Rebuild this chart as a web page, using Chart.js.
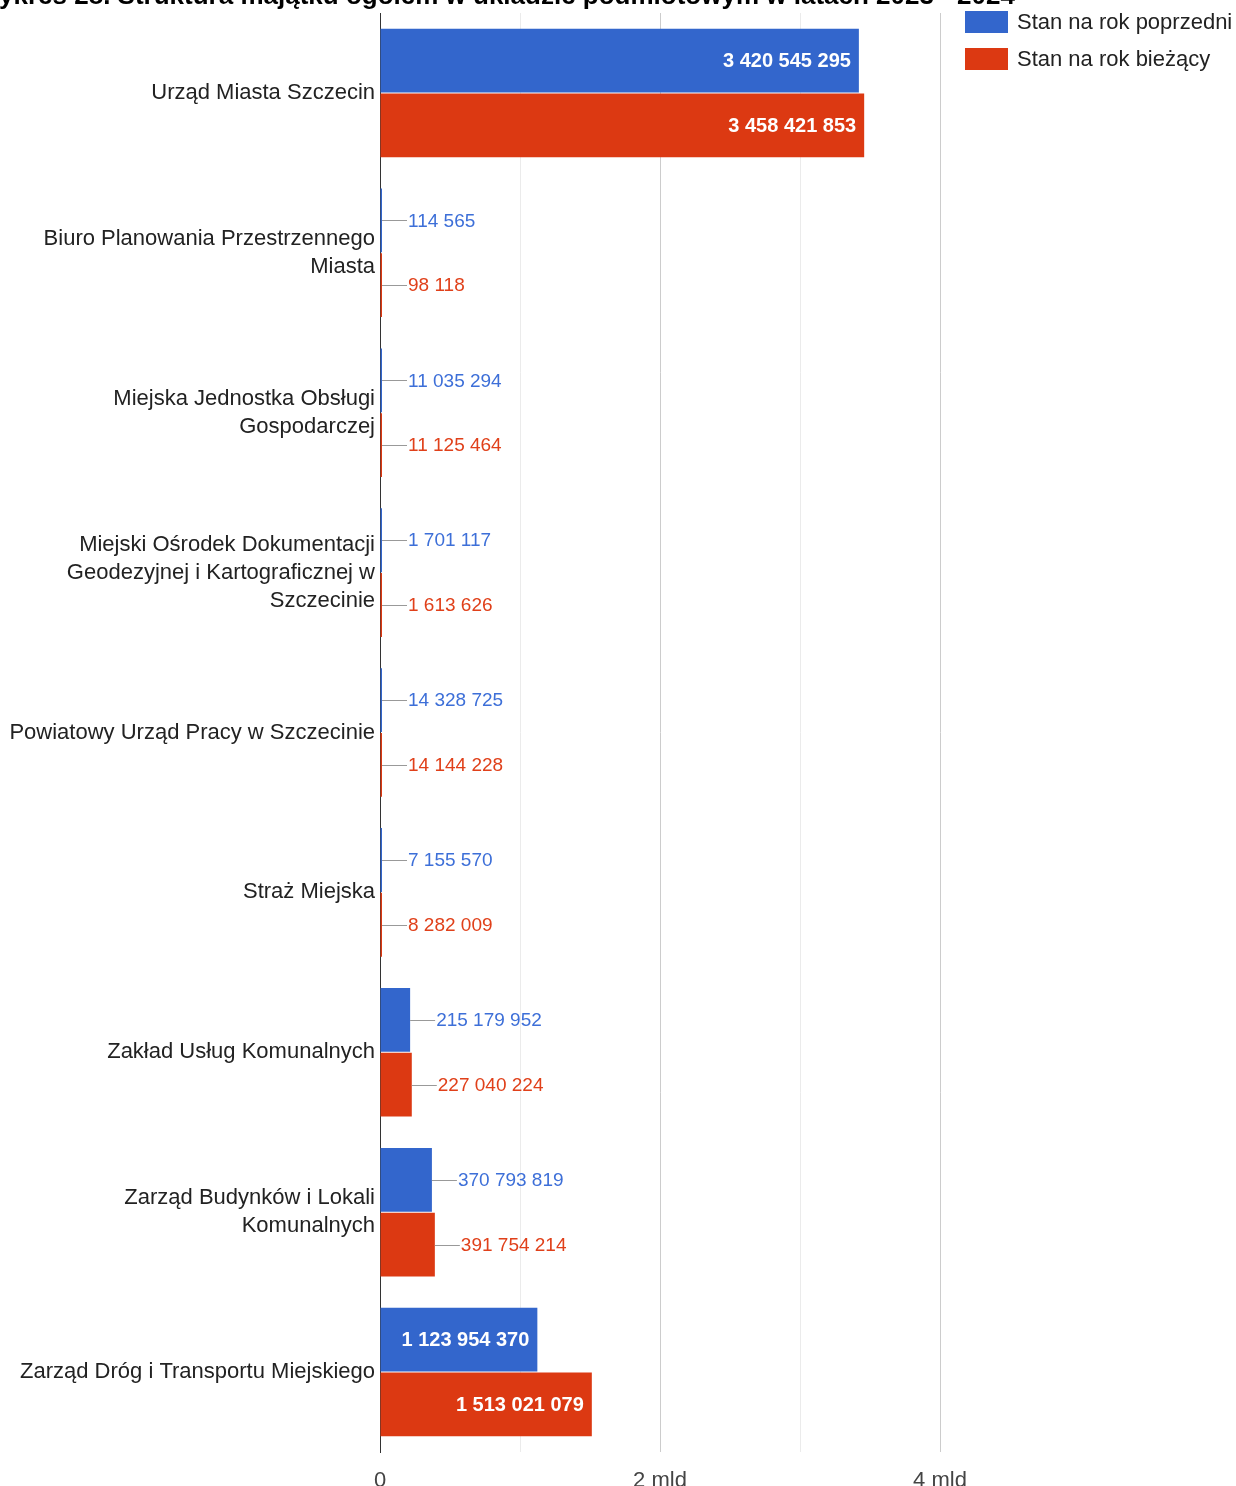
<!DOCTYPE html>
<html lang="pl">
<head>
<meta charset="utf-8">
<script src="https://cdn.jsdelivr.net/npm/chart.js@4"></script>
<style>
  html, body { margin: 0; padding: 0; background: #fff; overflow: hidden; }
  #wrap { position: relative; width: 1236px; height: 1486px; }
  #title {
    position: absolute; left: -25px; top: -18px; white-space: nowrap;
    font: bold 26px/26px "Liberation Sans", Arial, sans-serif; color: #000;
  }
  .leg { position: absolute; left: 965px; font: 22px "Liberation Sans", Arial, sans-serif; color: #222; }
  .leg i { position: absolute; left: 0; width: 43px; height: 22px; }
  .leg span { position: absolute; left: 52px; top: 0; line-height: 22px; white-space: nowrap; }
  canvas { position: absolute; left: 0; top: 0; }
</style>
</head>
<body>
<div id="wrap">
  <canvas id="chart" width="1236" height="1486"></canvas>
  <div id="title">Wykres 28. Struktura majątku ogółem w układzie podmiotowym w latach 2023 - 2024</div>
  <div class="leg" style="top:11px"><i style="background:#3366cc"></i><span>Stan na rok poprzedni</span></div>
  <div class="leg" style="top:48px"><i style="background:#dc3912"></i><span>Stan na rok bieżący</span></div>
</div>
<script>
'use strict';

// ── Data ─────────────────────────────────────────────────────────────────────
const categories = [
  'Urząd Miasta Szczecin',
  ['Biuro Planowania Przestrzennego', 'Miasta'],
  ['Miejska Jednostka Obsługi', 'Gospodarczej'],
  ['Miejski Ośrodek Dokumentacji', 'Geodezyjnej i Kartograficznej w', 'Szczecinie'],
  'Powiatowy Urząd Pracy w Szczecinie',
  'Straż Miejska',
  'Zakład Usług Komunalnych',
  ['Zarząd Budynków i Lokali', 'Komunalnych'],
  'Zarząd Dróg i Transportu Miejskiego',
];
const previousYear = [3420545295, 114565, 11035294, 1701117, 14328725, 7155570, 215179952, 370793819, 1123954370];
const currentYear  = [3458421853, 98118, 11125464, 1613626, 14144228, 8282009, 227040224, 391754214, 1513021079];
const xTickLabels = { 0: '0', 2: '2 mld', 4: '4 mld' };

const FONT = '"Liberation Sans", Arial, sans-serif';
const BLUE = '#3366cc';
const RED = '#dc3912';

// ── Helpers ──────────────────────────────────────────────────────────────────
function fmt(v) {
  return String(v).replace(/\B(?=(\d{3})+(?!\d))/g, ' ');
}

// draws the value next to / inside each bar, Google Charts style
const valueLabels = {
  id: 'valueLabels',
  afterDatasetsDraw(chart) {
    const c = chart.ctx;
    c.save();
    c.textBaseline = 'middle';
    chart.data.datasets.forEach((ds, di) => {
      const meta = chart.getDatasetMeta(di);
      meta.data.forEach((bar, i) => {
        const text = fmt(ds.data[i]);
        const width = bar.x - bar.base;
        c.font = 'bold 20px ' + FONT;
        const tw = c.measureText(text).width;
        if (tw + 16 < width) {
          c.fillStyle = '#fff';
          c.textAlign = 'right';
          c.fillText(text, bar.x - 8, bar.y + 1);
        } else {
          c.strokeStyle = '#999';
          c.lineWidth = 1;
          c.beginPath();
          c.moveTo(bar.x, Math.round(bar.y) + 0.5);
          c.lineTo(bar.x + 25, Math.round(bar.y) + 0.5);
          c.stroke();
          c.font = '19px ' + FONT;
          c.fillStyle = ds.labelColor;
          c.textAlign = 'left';
          c.fillText(text, bar.x + 26, bar.y + 1);
        }
      });
    });
    c.restore();
  },
};

// ── Chart ────────────────────────────────────────────────────────────────────
new Chart(document.getElementById('chart'), {
  type: 'bar',
  data: {
    labels: categories,
    datasets: [
      { label: 'Stan na rok poprzedni', data: previousYear, backgroundColor: BLUE, labelColor: '#3d6fd8' },
      { label: 'Stan na rok bieżący', data: currentYear, backgroundColor: RED, labelColor: '#e0401a' },
    ],
  },
  options: {
    indexAxis: 'y',
    responsive: false,
    animation: false,
    categoryPercentage: 0.81,
    barPercentage: 0.985,
    minBarLength: 2,
    layout: { padding: { top: 13, right: 296, left: 0, bottom: 0 } },
    scales: {
      x: {
        min: 0,
        max: 4e9,
        afterFit(s) { s.height = 34; s.paddingLeft = 0; s.paddingRight = 0; },
        border: { display: false },
        grid: {
          drawTicks: false,
          color: ctx => {
            const v = ctx.tick ? ctx.tick.value : 0;
            if (v === 0) return '#333';
            return (v / 1e9) % 2 === 0 ? '#cccccc' : '#ebebeb';
          },
        },
        ticks: {
          stepSize: 1e9,
          padding: 16,
          color: '#444',
          font: { family: FONT, size: 22 },
          callback: v => xTickLabels[v / 1e9] || '',
        },
      },
      y: {
        afterFit(s) { s.width = 380; s.paddingTop = 0; s.paddingBottom = 0; },
        border: { display: true, color: '#333' },
        grid: { display: false, drawTicks: false },
        ticks: {
          padding: 5,
          color: '#222',
          font: { family: FONT, size: 22, lineHeight: 28 / 22 },
        },
      },
    },
    plugins: {
      legend: { display: false },
      tooltip: { enabled: false },
    },
  },
  plugins: [valueLabels],
});
</script>
</body>
</html>
